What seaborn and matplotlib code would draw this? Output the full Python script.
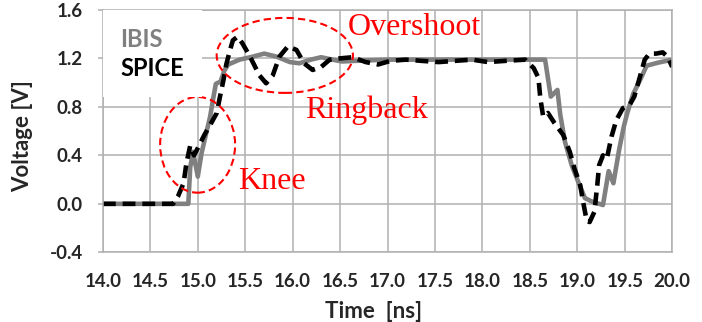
import numpy as np
import pandas as pd
import matplotlib
matplotlib.use("Agg")
import matplotlib.pyplot as plt
from matplotlib.patches import Ellipse
from matplotlib.ticker import FormatStrFormatter, MultipleLocator
import seaborn as sns

# IBIS model waveform (time in ns, voltage in V)
ibis_t = [14.0, 14.90, 14.92, 14.95, 15.00, 15.04, 15.10, 15.13, 15.16, 15.19,
          15.24, 15.28, 15.32, 15.44, 15.58, 15.70, 15.83, 15.97, 16.07, 16.19,
          16.30, 16.42, 16.52, 16.66, 17.0, 17.5, 18.0, 18.5, 18.66, 18.72,
          18.79, 18.82, 18.87, 18.94, 19.01, 19.08, 19.15, 19.27, 19.33, 19.38,
          19.44, 19.49, 19.53, 19.59, 19.66, 19.73, 19.85, 20.0]
ibis_v = [0.0, 0.0, 0.30, 0.43, 0.225, 0.42, 0.62, 0.72, 0.86, 0.99,
          1.01, 1.10, 1.15, 1.19, 1.215, 1.24, 1.215, 1.17, 1.16, 1.19,
          1.21, 1.19, 1.175, 1.18, 1.19, 1.19, 1.19, 1.19, 1.19, 0.885,
          0.94, 0.735, 0.51, 0.32, 0.18, 0.047, 0.02, -0.01, 0.27, 0.17,
          0.445, 0.64, 0.76, 0.91, 1.02, 1.14, 1.165, 1.19]

# SPICE transistor-level waveform
spice_t = [14.0, 14.74, 14.79, 14.85, 14.88, 14.92, 14.96, 15.00, 15.07, 15.14,
           15.20, 15.23, 15.27, 15.30, 15.34, 15.37, 15.42, 15.47, 15.55, 15.65,
           15.72, 15.79, 15.86, 15.95, 16.04, 16.12, 16.21, 16.30, 16.39, 16.49,
           16.63, 16.77, 16.90, 17.03, 17.19, 17.36, 17.54, 17.71, 17.89, 18.06,
           18.24, 18.45, 18.54, 18.59, 18.61, 18.64, 18.69, 18.76, 18.85, 18.92,
           18.97, 19.03, 19.06, 19.10, 19.13, 19.18, 19.21, 19.23, 19.27, 19.31,
           19.36, 19.41, 19.48, 19.55, 19.60, 19.66, 19.71, 19.76, 19.83, 19.90,
           19.95, 20.0]
spice_v = [0.0, 0.0, 0.06, 0.17, 0.335, 0.48, 0.40, 0.46, 0.57, 0.665,
           0.75, 0.87, 1.02, 1.15, 1.27, 1.35, 1.38, 1.325, 1.215, 1.06,
           0.995, 1.06, 1.215, 1.30, 1.27, 1.16, 1.105, 1.13, 1.19, 1.20,
           1.21, 1.17, 1.15, 1.18, 1.19, 1.18, 1.17, 1.18, 1.19, 1.17,
           1.18, 1.19, 1.12, 1.04, 0.87, 0.72, 0.75, 0.665, 0.57, 0.43,
           0.29, 0.155, 0.02, -0.145, -0.15, -0.065, 0.155, 0.32, 0.40, 0.37,
           0.555, 0.69, 0.79, 0.815, 0.885, 1.05, 1.19, 1.24, 1.24, 1.25,
           1.215, 1.13]

series_names = ["IBIS", "SPICE"]
series_colors = ["#808080", "#000000"]

df = pd.concat([
    pd.DataFrame({"Time": ibis_t, "Voltage": ibis_v, "Model": "IBIS"}),
    pd.DataFrame({"Time": spice_t, "Voltage": spice_v, "Model": "SPICE"}),
], ignore_index=True)

sns.set_style("white")
plt.rcParams["font.family"] = ["Lato", "DejaVu Sans"]

fig = plt.figure(figsize=(7.02, 3.22), dpi=100)
ax = fig.add_axes([0.1466, 0.2165, 0.811, 0.7525])

grid_c = "#b0b0b0"
ax.grid(True, color=grid_c, linewidth=1.1)
ax.set_axisbelow(True)

sns.lineplot(data=df, x="Time", y="Voltage", hue="Model", style="Model",
             hue_order=series_names, style_order=series_names,
             palette=dict(zip(series_names, series_colors)),
             dashes={"IBIS": "", "SPICE": (2.8, 1.5)},
             linewidth=3.3, legend=False, ax=ax)

ax.set_xlim(14.0, 20.0)
ax.set_ylim(-0.4, 1.6)
ax.xaxis.set_major_locator(MultipleLocator(0.5))
ax.yaxis.set_major_locator(MultipleLocator(0.4))
ax.xaxis.set_major_formatter(FormatStrFormatter("%.1f"))
ax.yaxis.set_major_formatter(FormatStrFormatter("%.1f"))

for sp in ax.spines.values():
    sp.set_visible(True)
    sp.set_color(grid_c)
    sp.set_linewidth(1.1)

ax.tick_params(axis="x", length=0, pad=15, labelsize=13.5)
ax.tick_params(axis="y", left=True, length=3.6, width=1.1, color=grid_c,
               pad=11, labelsize=13.5)
for lab in ax.get_xticklabels() + ax.get_yticklabels():
    lab.set_fontweight("bold")

ax.set_xlabel("Time  [ns]", fontsize=16, fontweight="bold")
ax.set_ylabel("Voltage [V]", fontsize=16, fontweight="bold")
ax.xaxis.set_label_coords(0.476, -0.2)
ax.yaxis.set_label_coords(-0.122, 0.48)

# text-only legend on a white box
lines = ax.get_lines()[:2]
leg = ax.legend(lines, series_names, loc="upper left", handlelength=0,
                handletextpad=0, frameon=True, facecolor="white",
                edgecolor="none", framealpha=1, fancybox=False,
                borderaxespad=0, borderpad=0.75, labelspacing=0.25,
                prop={"family": "Lato", "weight": "bold", "size": 17})
for h in leg.legend_handles:
    h.set_visible(False)
for txt, c in zip(leg.get_texts(), series_colors):
    txt.set_color(c)

# annotation ellipses
ell_kw = dict(fill=False, edgecolor="#ff0000", linewidth=1.5,
              linestyle=(0, (3.5, 2)), zorder=5)
ax.add_patch(Ellipse((14.998, 0.487), 0.79, 0.79, **ell_kw))
ax.add_patch(Ellipse((15.917, 1.225), 1.436, 0.619, **ell_kw))

ann_kw = dict(color="#ff0000", fontsize=23, family=["Liberation Serif", "DejaVu Serif"],
              ha="left", va="baseline", zorder=6)
ax.text(16.583, 1.394, "Overshoot", **ann_kw)
ax.text(16.13, 0.709, "Ringback", **ann_kw)
ax.text(15.42, 0.124, "Knee", **ann_kw)

fig.savefig("out.png", dpi=100)
